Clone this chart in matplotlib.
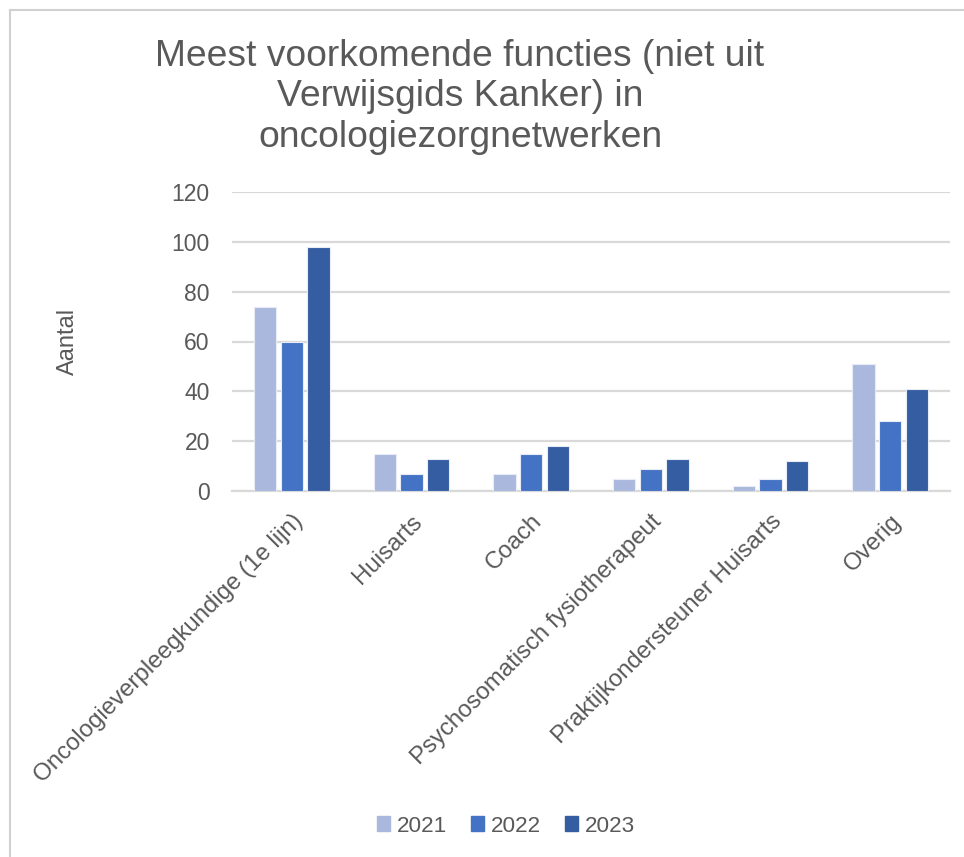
import matplotlib
matplotlib.use("Agg")
import matplotlib.pyplot as plt
from matplotlib.lines import Line2D
import numpy as np

categories = ["Oncologieverpleegkundige (1e lijn)", "Huisarts", "Coach",
              "Psychosomatisch fysiotherapeut", "Praktijkondersteuner Huisarts", "Overig"]
years = ["2021", "2022", "2023"]
v2021 = [74, 15, 7, 5, 2, 51]
v2022 = [60, 7, 15, 9, 5, 28]
v2023 = [98, 13, 18, 13, 12, 41]
colors = ["#A9B8DC", "#4472C4", "#355DA1"]
yticks = [0, 20, 40, 60, 80, 100, 120]

plt.rcParams['font.family'] = ['Liberation Sans', 'DejaVu Sans']
gray = "#595959"
grid = "#D9D9D9"

fig = plt.figure(figsize=(9.64, 8.57), dpi=100)
ax = fig.add_axes([232/964, (857-491)/857, (950-232)/964, (491-192)/857])

x = np.arange(len(categories))
step = 0.223
for i, (vals, c, lab) in enumerate(zip([v2021, v2022, v2023], colors, years)):
    ax.bar(x + (i-1)*step, vals, width=0.185, color=c, edgecolor="#E8ECF6",
           linewidth=0.8, label=lab, zorder=3)

ax.set_xlim(-0.5, len(categories)-0.5)
ax.set_ylim(0, 120)
ax.set_yticks(yticks)
ax.set_yticklabels([str(t) for t in yticks], fontsize=16.5, color=gray)
ax.yaxis.grid(True, color=grid, linewidth=1.6, zorder=0)
ax.tick_params(axis='y', length=0, pad=16)
ax.tick_params(axis='x', length=0, pad=14)
ax.set_xticks(x)
ax.set_xticklabels(categories, rotation=45, ha='right', va='top',
                   rotation_mode='anchor', fontsize=17.3, color=gray)
for s in ["top", "right", "left"]:
    ax.spines[s].set_visible(False)
ax.spines["bottom"].set_color(grid)
ax.spines["bottom"].set_linewidth(1.6)

ax.set_ylabel("Aantal", fontsize=17, color=gray, labelpad=67)

fig.text(460/964, 1-97/857, "Meest voorkomende functies (niet uit\nVerwijsgids Kanker) in\noncologiezorgnetwerken",
         ha='center', va='center', fontsize=26.8, color=gray, linespacing=1.2)

handles = [plt.Rectangle((0, 0), 1, 1, color=c) for c in colors]
fig.legend(handles, years, loc='center', bbox_to_anchor=(506/964, 1-826/857),
           ncol=3, frameon=False, fontsize=16.2, labelcolor=gray,
           handlelength=0.6, handleheight=0.6, handletextpad=0.3, columnspacing=1.05)

# outer light border
fig.add_artist(Line2D([10/964, 10/964], [0, 1-10/857], transform=fig.transFigure, color="#D0D0D0", linewidth=1.5))
fig.add_artist(Line2D([10/964, 1], [1-10/857, 1-10/857], transform=fig.transFigure, color="#D0D0D0", linewidth=1.5))

fig.savefig("out.png", dpi=100, facecolor="white")
